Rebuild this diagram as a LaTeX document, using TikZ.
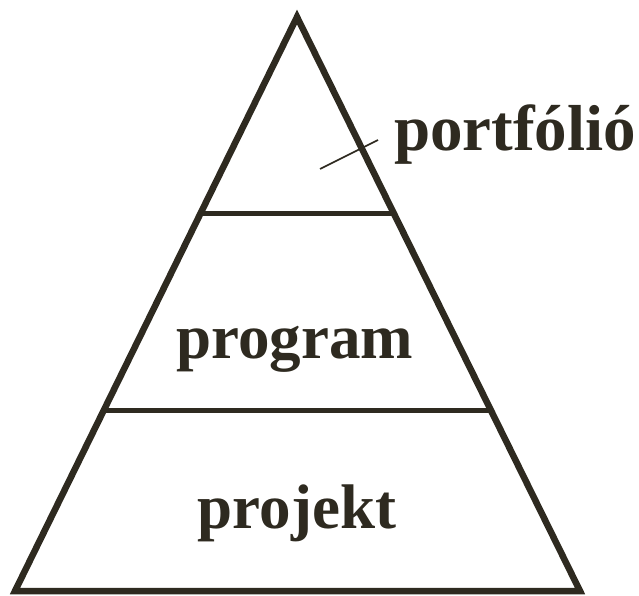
\documentclass[tikz,border=0pt]{standalone}
\usepackage{fontspec}
\setmainfont{Liberation Serif}
\usetikzlibrary{calc}
\definecolor{ink}{RGB}{46,42,32}

\begin{document}
\begin{tikzpicture}[
  x=1pt, y=-1pt,
  outline/.style={draw=ink, line width=6.5pt, line join=miter},
  level_line/.style={draw=ink, line width=5pt},
  leader/.style={draw=ink, line width=1.6pt},
  level_label/.style={text=ink, font=\bfseries\fontsize{63}{70}\selectfont, inner sep=0pt, anchor=base}
  ]
\useasboundingbox (0,0) rectangle (639,595);

\coordinate (apex) at (297,17);
\coordinate (left) at (15,591);
\coordinate (right) at (580,591);

\path [outline] (apex) -- (left) -- (right) -- cycle;

% level borders
\path [level_line] ($(apex)!0.3415!(left)$) -- ($(apex)!0.3415!(right)$);
\path [level_line] ($(apex)!0.6847!(left)$) -- ($(apex)!0.6847!(right)$);

\node [level_label] (program) at (295,358) {program};
\node [level_label] (projekt) at (297,528) {projekt};
\node [level_label, anchor=base west, font=\bfseries\fontsize{65}{70}\selectfont] (portfolio) at (394,150) {portfólió};

\coordinate (leader_end) at (320,169);
\path [leader] (leader_end) -- (378,140);
\end{tikzpicture}
\end{document}
